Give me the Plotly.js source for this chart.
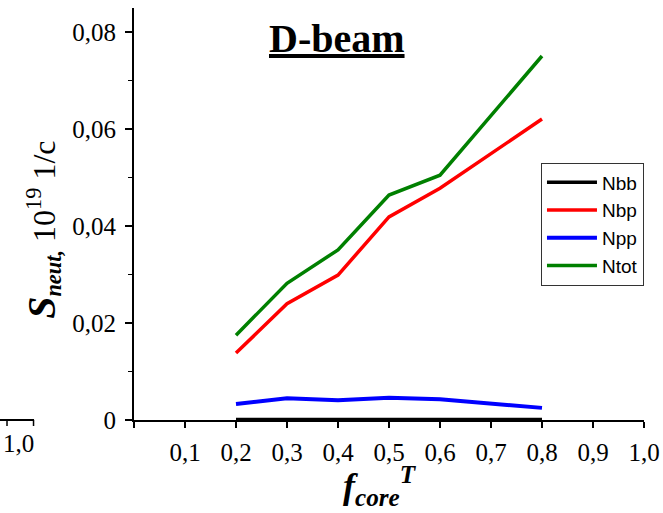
<!DOCTYPE html>
<html>
<head>
<meta charset="utf-8">
<script src="https://cdn.plot.ly/plotly-3.0.1.min.js"></script>
<style>
  html, body { margin: 0; padding: 0; background: #fff; }
  #chart { width: 663px; height: 513px; }
</style>
</head>
<body>
<div id="chart"></div>
<script>
// Neutron source components versus core fraction f_core^T (D-beam)
const fCore    = [0.2, 0.3, 0.4, 0.5, 0.6, 0.8];
const fCorePP  = [0.2, 0.3, 0.4, 0.5, 0.6, 0.7, 0.8];
const nbb  = [0.0001, 0.0001, 0.0001, 0.0001, 0.0001, 0.0001];
const nbp  = [0.0138, 0.0240, 0.0299, 0.0419, 0.0478, 0.0621];
const npp  = [0.0033, 0.0045, 0.0041, 0.0046, 0.0043, 0.0034, 0.0025];
const ntot = [0.0175, 0.0282, 0.0351, 0.0464, 0.0505, 0.0751];

const xTickVals = [0.1, 0.2, 0.3, 0.4, 0.5, 0.6, 0.7, 0.8, 0.9, 1.0];
const xTickText = ['0,1', '0,2', '0,3', '0,4', '0,5', '0,6', '0,7', '0,8', '0,9', '1,0'];
const yTickVals = [0, 0.02, 0.04, 0.06, 0.08];
const yTickText = ['0', '0,02', '0,04', '0,06', '0,08'];

const serif = 'Liberation Serif, Times New Roman, serif';
const sans  = 'Liberation Sans, Arial, sans-serif';

const traces = [
  { name: 'Nbb',  x: fCore,   y: nbb,  color: '#000000', w: 3.5 },
  { name: 'Nbp',  x: fCore,   y: nbp,  color: '#ff0000', w: 3.5 },
  { name: 'Npp',  x: fCorePP, y: npp,  color: '#0000ff', w: 4 },
  { name: 'Ntot', x: fCore,   y: ntot, color: '#008000', w: 3.5 }
].map(s => ({
  type: 'scatter', mode: 'lines', name: s.name, x: s.x, y: s.y,
  line: { color: s.color, width: s.w }, cliponaxis: false
}));

const layout = {
  width: 663, height: 513,
  margin: { l: 134, r: 19, t: 8, b: 93 },
  paper_bgcolor: '#ffffff', plot_bgcolor: '#ffffff',
  separators: ', ',
  showlegend: true,
  legend: {
    x: 0.798, y: 0.625, xanchor: 'left', yanchor: 'top',
    bgcolor: '#ffffff', bordercolor: '#333333', borderwidth: 1,
    font: { family: sans, size: 19, color: '#000' },
    itemwidth: 50,
    tracegroupgap: 0
  },
  xaxis: {
    range: [0, 1.0], showgrid: false, zeroline: false,
    showline: true, linecolor: '#000', linewidth: 2,
    ticks: 'outside', ticklen: 6, tickwidth: 1.5, tickcolor: '#000',
    tickmode: 'array', tickvals: xTickVals, ticktext: xTickText,
    minor: { tickmode: 'array', tickvals: [0], ticks: 'outside', ticklen: 6, tickwidth: 1.5, tickcolor: '#000' },
    ticklabelstandoff: 3,
    tickfont: { family: serif, size: 25, color: '#000' }
  },
  yaxis: {
    range: [0, 0.085], showgrid: false, zeroline: false,
    showline: true, linecolor: '#000', linewidth: 2,
    ticks: 'outside', ticklen: 7, tickwidth: 1.5, tickcolor: '#000',
    tickmode: 'array', tickvals: yTickVals, ticktext: yTickText,
    ticklabelstandoff: 4,
    minor: { tickmode: 'linear', tick0: 0, dtick: 0.01, ticks: 'outside', ticklen: 4, tickwidth: 1.5, tickcolor: '#000' },
    tickfont: { family: serif, size: 25, color: '#000' }
  },
  annotations: [
    {
      text: '<b><u>D-beam</u></b>',
      xref: 'paper', yref: 'paper', x: 0.398, y: 0.925,
      xanchor: 'center', yanchor: 'middle', showarrow: false,
      font: { family: serif, size: 40, color: '#000' }
    },
    {
      text: '<span style="font-size:40px"><b><i>S</i></b></span><sub><b><i>neut,</i></b></sub> 10<sup>19</sup> 1/c',
      xref: 'paper', yref: 'paper', x: -0.18, y: 0.462,
      xanchor: 'center', yanchor: 'middle', textangle: -90, showarrow: false,
      font: { family: serif, size: 32, color: '#000' }
    },
    {
      text: '<b><i>f<sub>core</sub><sup>T</sup></i></b>',
      xref: 'paper', yref: 'paper', x: 0.482, y: -0.16,
      xanchor: 'center', yanchor: 'middle', showarrow: false,
      font: { family: serif, size: 36, color: '#000' }
    },
    {
      // edge of the neighbouring panel's axis
      text: '1,0',
      xref: 'paper', yref: 'paper', x: -0.227, y: -0.056,
      xanchor: 'center', yanchor: 'middle', showarrow: false,
      font: { family: serif, size: 25, color: '#000' }
    }
  ],
  shapes: [
    { type: 'line', xref: 'paper', yref: 'paper', x0: -0.27, x1: -0.196, y0: 0, y1: 0, line: { color: '#000', width: 2 } },
    { type: 'line', xref: 'paper', yref: 'paper', x0: -0.249, x1: -0.249, y0: 0, y1: -0.0146, line: { color: '#000', width: 1.5 } },
    { type: 'line', xref: 'paper', yref: 'paper', x0: -0.197, x1: -0.197, y0: 0, y1: -0.0146, line: { color: '#000', width: 1.5 } }
  ]
};

Plotly.newPlot('chart', traces, layout, { displayModeBar: false, staticPlot: true });
</script>
</body>
</html>
